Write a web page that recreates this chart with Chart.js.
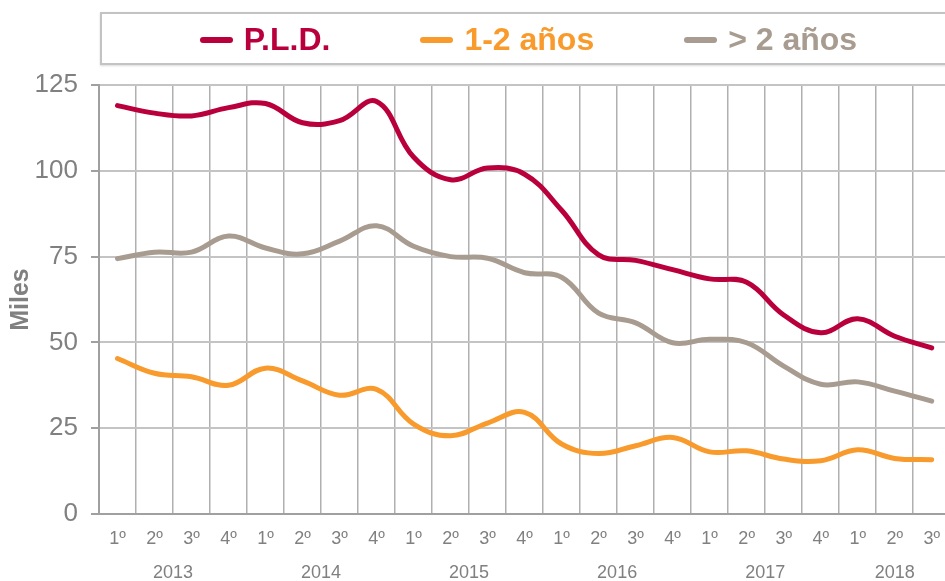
<!DOCTYPE html>
<html>
<head>
<meta charset="utf-8">
<script src="https://cdn.jsdelivr.net/npm/chart.js@4.4.1/dist/chart.umd.min.js"></script>
<style>
  html, body { margin: 0; padding: 0; background: #fff; overflow: hidden; }
  #wrap { position: relative; width: 945px; height: 581px; overflow: hidden; }
  #chart { position: absolute; left: 0; top: 0; }
  #legend {
    position: absolute; left: 100px; top: 12px; width: 853px; height: 47px;
    border: 2px solid #c3c3c3; box-shadow: 0 1px 2px rgba(0,0,0,0.15);
    display: flex; justify-content: center; align-items: center;
    font-family: "Liberation Sans", Arial, sans-serif; font-weight: bold; font-size: 32px;
    padding-top: 2px; box-sizing: content-box;
  }
  #legend .item { display: flex; align-items: center; margin: 0 45px; white-space: nowrap; }
  #legend .mark { width: 33px; height: 6px; border-radius: 3px; margin-right: 11px; }
</style>
</head>
<body>
<div id="wrap">
  <canvas id="chart" width="954" height="581"></canvas>
  <div id="legend"></div>
</div>
<script>
document.addEventListener("DOMContentLoaded", () => {
  const quarters = ["1º", "2º", "3º", "4º", "1º", "2º", "3º", "4º", "1º", "2º", "3º", "4º",
                    "1º", "2º", "3º", "4º", "1º", "2º", "3º", "4º", "1º", "2º", "3º"];
  const years = ["2013", "2014", "2015", "2016", "2017", "2018"];
  const yearSpan = [4, 4, 4, 4, 4, 3];

  const seriesNames = ["P.L.D.", "1-2 años", "> 2 años"];
  const seriesColors = ["#b9003c", "#f99a2c", "#a89c90"];

  // miles
  const pld = [119.0, 116.8, 116.0, 118.4, 119.6, 114.0, 114.6, 120.2, 104.0, 97.4, 100.8, 99.0,
               88.5, 75.5, 73.9, 71.2, 68.5, 67.5, 58.0, 52.8, 56.9, 51.8, 48.4];
  const unoDos = [45.3, 41.0, 40.0, 37.5, 42.5, 38.8, 34.6, 36.3, 26.2, 22.8, 26.5, 29.6,
                  20.4, 17.6, 19.9, 22.3, 18.1, 18.4, 16.0, 15.5, 18.7, 16.2, 15.8];
  const masDos = [74.4, 76.3, 76.3, 81.0, 77.5, 75.8, 79.5, 84.0, 78.0, 75.0, 74.5, 70.3,
                  69.0, 58.5, 55.7, 49.9, 50.9, 49.9, 43.1, 37.8, 38.5, 35.8, 32.9];

  const FONT = '"Liberation Sans", Arial, sans-serif';
  const GREY_TEXT = "#808080";

  // year labels under the quarter ticks
  const yearLabels = {
    id: "yearLabels",
    afterDraw(chart) {
      const { ctx, scales: { x } } = chart;
      ctx.save();
      ctx.font = "18px " + FONT;
      ctx.fillStyle = GREY_TEXT;
      ctx.textAlign = "center";
      ctx.textBaseline = "middle";
      let start = 0;
      years.forEach((year, i) => {
        const end = start + yearSpan[i] - 1;
        const cx = (x.getPixelForValue(start) + x.getPixelForValue(end)) / 2;
        ctx.fillText(year, cx, x.bottom - 8);
        start += yearSpan[i];
      });
      ctx.restore();
    }
  };

  // html legend built from the datasets
  const htmlLegend = {
    id: "htmlLegend",
    afterUpdate(chart) {
      const box = document.getElementById("legend");
      box.innerHTML = "";
      chart.data.datasets.forEach(ds => {
        const item = document.createElement("div");
        item.className = "item";
        item.style.color = ds.borderColor;
        const mark = document.createElement("span");
        mark.className = "mark";
        mark.style.background = ds.borderColor;
        const label = document.createElement("span");
        label.textContent = ds.label;
        item.appendChild(mark);
        item.appendChild(label);
        box.appendChild(item);
      });
    }
  };

  const makeSet = (i, values) => ({
    label: seriesNames[i],
    data: values,
    borderColor: seriesColors[i],
    backgroundColor: seriesColors[i],
    borderWidth: 5,
    borderCapStyle: "round",
    borderJoinStyle: "round",
    pointRadius: 0,
    tension: 0.4,
    fill: false
  });

  new Chart(document.getElementById("chart"), {
    type: "line",
    data: {
      labels: quarters,
      datasets: [makeSet(0, pld), makeSet(1, unoDos), makeSet(2, masDos)]
    },
    options: {
      responsive: false,
      animation: false,
      layout: { padding: { top: 85, right: 0, bottom: 0, left: 0 } },
      plugins: {
        legend: { display: false },
        tooltip: { enabled: false }
      },
      scales: {
        x: {
          offset: true,
          grid: { color: "#b0b0b0", lineWidth: 1.5, drawTicks: false, offset: true },
          border: { color: "#a0a0a0", width: 2 },
          ticks: { color: GREY_TEXT, font: { family: FONT, size: 18 }, padding: 14, maxRotation: 0, autoSkip: false },
          afterFit: s => { s.height = 67; }
        },
        y: {
          min: 0,
          max: 125,
          ticks: { stepSize: 25, color: GREY_TEXT, font: { family: FONT, size: 26 }, padding: 13 },
          grid: { color: "#c4c4c4", lineWidth: 2, tickLength: 8, tickColor: "#a0a0a0" },
          border: { color: "#a0a0a0", width: 2 },
          title: {
            display: true,
            text: "Miles",
            color: GREY_TEXT,
            font: { family: FONT, size: 25, weight: "bold" },
            padding: { top: 6, bottom: 0 }
          },
          afterFit: s => { s.width = 99; }
        }
      }
    },
    plugins: [yearLabels, htmlLegend]
  });
});
</script>
</body>
</html>
